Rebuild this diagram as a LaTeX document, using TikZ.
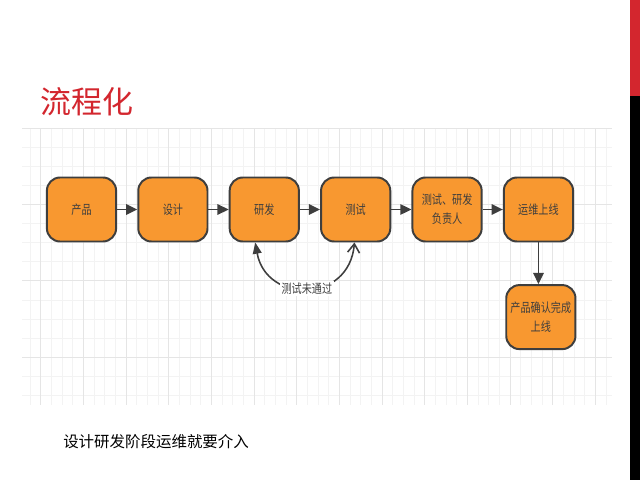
\documentclass[tikz,border=0pt]{standalone}
\usepackage{fontspec}
\setmainfont{Noto Sans CJK SC}
\newfontfamily\cjknarrow[FakeStretch=0.8]{Noto Sans CJK SC}
\usetikzlibrary{arrows.meta,positioning}
\definecolor{slidered}{RGB}{211,38,46}
\definecolor{boxfill}{RGB}{248,152,48}
\definecolor{boxline}{RGB}{62,62,62}
\definecolor{gridminor}{RGB}{243,243,243}
\definecolor{gridmajor}{RGB}{229,229,229}
\tikzset{
  box/.style={draw=boxline, line width=1.4pt, rounded corners=0.33cm,
              fill=boxfill, align=center, text=boxline, font=\cjknarrow\fontsize{9}{13.5}\selectfont,
              minimum width=1.73cm, minimum height=1.6cm, inner sep=2pt},
  arr/.style={-{Triangle[length=2.8mm,width=2.6mm]}, line width=1.3pt, draw=boxline},
  backarr/.style={{Straight Barb[length=2.2mm,width=3mm]}-{Triangle[length=2.8mm,width=2.2mm]},
                  line width=1.1pt, draw=boxline},
  lbl/.style={fill=white, inner sep=1pt, text=boxline, font=\cjknarrow\fontsize{9}{10}\selectfont}
}

\begin{document}
\begin{tikzpicture}[x=0.025cm, y=-0.025cm, node distance=1.04cm and 0.505cm]
    \useasboundingbox (0,0) rectangle (640,480);
    \fill[white] (0,0) rectangle (640,480);
    \fill[slidered] (630,0) rectangle (640,96);
    \fill[black] (630,96) rectangle (640,480);

    \foreach \k in {0,...,54}
      \draw[gridminor, line width=0.5pt] (30+\k*10.667,128) -- (30+\k*10.667,405);
    \foreach \j in {0,...,14}
      \draw[gridminor, line width=0.5pt] (22,128+\j*19.1) -- (612,128+\j*19.1);
    \foreach \k in {1,5,...,53}
      \draw[gridmajor, line width=0.6pt] (30+\k*10.667,128) -- (30+\k*10.667,405);
    \foreach \j in {0,4,8,12}
      \draw[gridmajor, line width=0.6pt] (22,128+\j*19.1) -- (612,128+\j*19.1);

    \node[anchor=west, inner sep=0, text=slidered, font=\fontsize{22}{26}\selectfont] (title) at (40,102) {流程化};

    \node[box] (prod) at (81.5,209.5) {产品};
    \node[box, right=of prod] (design) {设计};
    \node[box, right=of design] (dev) {研发};
    \node[box, right=of dev] (test) {测试};
    \node[box, right=of test] (owner) {测试、研发\\负责人};
    \node[box, right=of owner] (ops) {运维上线};
    \node[box, below=of ops, xshift=0.06cm] (done) {产品确认完成\\上线};

    \draw[arr] (prod) -- (design);
    \draw[arr] (design) -- (dev);
    \draw[arr] (dev) -- (test);
    \draw[arr] (test) -- (owner);
    \draw[arr] (owner) -- (ops);
    \draw[arr] (ops.south) -- (ops.south |- done.north);
    \draw[backarr] ([xshift=-0.03cm]test.south) to[out=-95, in=-80, looseness=1.6]
      node[lbl] (fail) {测试未通过} ([xshift=-0.225cm]dev.south);

    \node[anchor=west, inner sep=0, font=\fontsize{11}{13}\selectfont] (note) at (63,442) {设计研发阶段运维就要介入};
\end{tikzpicture}
\end{document}
